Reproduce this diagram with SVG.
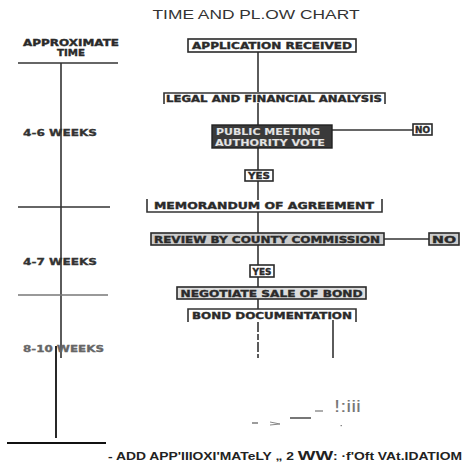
<svg xmlns="http://www.w3.org/2000/svg" width="467" height="463" viewBox="0 0 467 463">
<style>
.lbl{font-family:"DejaVu Sans",sans-serif;font-weight:bold;font-size:8.5px;fill:#2a2a2a;stroke:#2a2a2a;stroke-width:0.35;text-anchor:middle}
.box{fill:#fff;stroke:#2a2a2a;stroke-width:1.6}
.dark{fill:#3a3a3a;stroke:#222;stroke-width:1.4}
.ln{stroke:#333;stroke-width:1.6;fill:none}
.gl{stroke:#777;stroke-width:1.4;fill:none}
.time{font-family:"DejaVu Sans",sans-serif;font-weight:bold;font-size:8.5px;fill:#333;stroke:#333;stroke-width:0.3}
</style>
<rect width="467" height="463" fill="#fff"/>
<text x="256" y="19" font-family="Liberation Sans, Arial, sans-serif" font-size="13" fill="#333" text-anchor="middle" textLength="207" lengthAdjust="spacingAndGlyphs">TIME AND PL.OW CHART</text>

<g id="time-axis">
<text class="lbl" x="71" y="46" textLength="96" lengthAdjust="spacingAndGlyphs">APPROXIMATE</text>
<text class="lbl" x="71" y="56" textLength="28" lengthAdjust="spacingAndGlyphs">TIME</text>
<line class="ln" x1="18" y1="63" x2="118" y2="63" stroke-width="1.2"/>
<line class="ln" x1="61" y1="63" x2="61" y2="358" stroke="#555" stroke-width="1.3"/>
<text class="time" x="23" y="136" textLength="74" lengthAdjust="spacingAndGlyphs">4-6 WEEKS</text>
<line class="ln" x1="18" y1="207" x2="110" y2="207" stroke="#555" stroke-width="1.3"/>
<text class="time" x="23" y="265" textLength="74" lengthAdjust="spacingAndGlyphs">4-7 WEEKS</text>
<line class="gl" x1="18" y1="295" x2="108" y2="295"/>
<text class="time" x="23" y="352" style="fill:#666;stroke:#666" textLength="81" lengthAdjust="spacingAndGlyphs">8-10 WEEKS</text>
<line x1="56" y1="346" x2="56" y2="438" stroke="#111" stroke-width="1.8"/>
<line x1="7" y1="443" x2="106" y2="443" stroke="#111" stroke-width="1.8"/>
</g>

<g id="connectors">
<line class="ln" x1="258" y1="52" x2="258" y2="92"/>
<line class="ln" x1="258" y1="103" x2="258" y2="125"/>
<line class="ln" x1="258" y1="148" x2="258" y2="170"/>
<line class="ln" x1="258" y1="181" x2="258" y2="200"/>
<line class="ln" x1="258" y1="212" x2="258" y2="233"/>
<line class="ln" x1="258" y1="245" x2="258" y2="265"/>
<line class="ln" x1="258" y1="277" x2="258" y2="287"/>
<line class="ln" x1="258" y1="299" x2="258" y2="309"/>
<line class="ln" x1="332" y1="130" x2="413" y2="130" stroke-width="1.2"/>
<line class="ln" x1="384" y1="239" x2="429" y2="239" stroke-width="1.2"/>
<line class="ln" x1="258" y1="322" x2="258" y2="358" stroke-width="1.3" stroke-dasharray="10 2 6 2"/>
<line class="ln" x1="333" y1="320" x2="333" y2="358" stroke-width="1.3"/>
</g>

<g id="application">
<rect class="box" x="188" y="39" width="168" height="13"/>
<text class="lbl" x="272" y="49" textLength="160" lengthAdjust="spacingAndGlyphs">APPLICATION RECEIVED</text>
</g>
<g id="legal">
<path class="ln" d="M164 104 V93 H385 V104"/>
<text class="lbl" x="274" y="102" textLength="216" lengthAdjust="spacingAndGlyphs">LEGAL AND FINANCIAL ANALYSIS</text>
</g>
<g id="public-meeting">
<rect class="dark" x="212" y="125" width="120" height="23"/>
<text class="lbl" x="268" y="135" style="fill:#e6e6e6;stroke:#bbb;stroke-width:0.2" textLength="104" lengthAdjust="spacingAndGlyphs">PUBLIC MEETING</text>
<text class="lbl" x="270" y="145.5" style="fill:#e6e6e6;stroke:#bbb;stroke-width:0.2" textLength="110" lengthAdjust="spacingAndGlyphs">AUTHORITY VOTE</text>
</g>
<g id="no1">
<rect class="box" x="413" y="124" width="19" height="11"/>
<text class="lbl" x="422.5" y="133" textLength="15" lengthAdjust="spacingAndGlyphs">NO</text>
</g>
<g id="yes1">
<rect class="box" x="245" y="170" width="28" height="11"/>
<text class="lbl" x="259" y="179" textLength="22" lengthAdjust="spacingAndGlyphs">YES</text>
</g>
<g id="memorandum">
<path class="ln" d="M147 199 V212 H382 V199"/>
<text class="lbl" x="264" y="209" textLength="220" lengthAdjust="spacingAndGlyphs">MEMORANDUM OF AGREEMENT</text>
</g>
<g id="review">
<rect class="box" x="151" y="233" width="233" height="12" style="fill:#ccc"/>
<text class="lbl" x="267" y="242.5" textLength="226" lengthAdjust="spacingAndGlyphs">REVIEW BY COUNTY COMMISSION</text>
</g>
<g id="no2">
<rect class="box" x="429" y="233" width="30" height="12" style="fill:#ccc"/>
<text class="lbl" x="444" y="242.5" textLength="24" lengthAdjust="spacingAndGlyphs">NO</text>
</g>
<g id="yes2">
<rect class="box" x="250" y="265" width="24" height="12"/>
<text class="lbl" x="262" y="274.5" textLength="19" lengthAdjust="spacingAndGlyphs">YES</text>
</g>
<g id="negotiate">
<rect class="box" x="177" y="287" width="189" height="12" style="fill:#ddd"/>
<text class="lbl" x="271.5" y="296.5" textLength="182" lengthAdjust="spacingAndGlyphs">NEGOTIATE SALE OF BOND</text>
</g>
<g id="bond-doc">
<path class="ln" d="M188 322 V309 H356 V322"/>
<text class="lbl" x="272" y="319" textLength="160" lengthAdjust="spacingAndGlyphs">BOND DOCUMENTATION</text>
</g>

<g id="marks" font-family="Liberation Sans, Arial, sans-serif" fill="#777">
<text x="334" y="412" font-size="17" textLength="27" lengthAdjust="spacingAndGlyphs">!:iii</text>
<line x1="252" y1="423" x2="258" y2="423" stroke="#666" stroke-width="1.3"/>
<path d="M270 422 L280 424 L270 425" stroke="#888" stroke-width="1" fill="none"/>
<line x1="290" y1="418" x2="311" y2="418" stroke="#555" stroke-width="1.6"/>
<line x1="315" y1="411" x2="323" y2="411" stroke="#777" stroke-width="1.2"/>
<rect x="340.5" y="425" width="1.5" height="1.2" fill="#888"/>
</g>

<text id="footnote" x="108" y="460" font-family="Liberation Sans, Arial, sans-serif" font-weight="bold" font-size="10" fill="#222" textLength="354" lengthAdjust="spacingAndGlyphs">- ADD APP'IIIOXI'MATeLY „ 2 <tspan font-size="13.5">WW</tspan>: ·f'Oft  VAt.IDATIOM</text>
</svg>
